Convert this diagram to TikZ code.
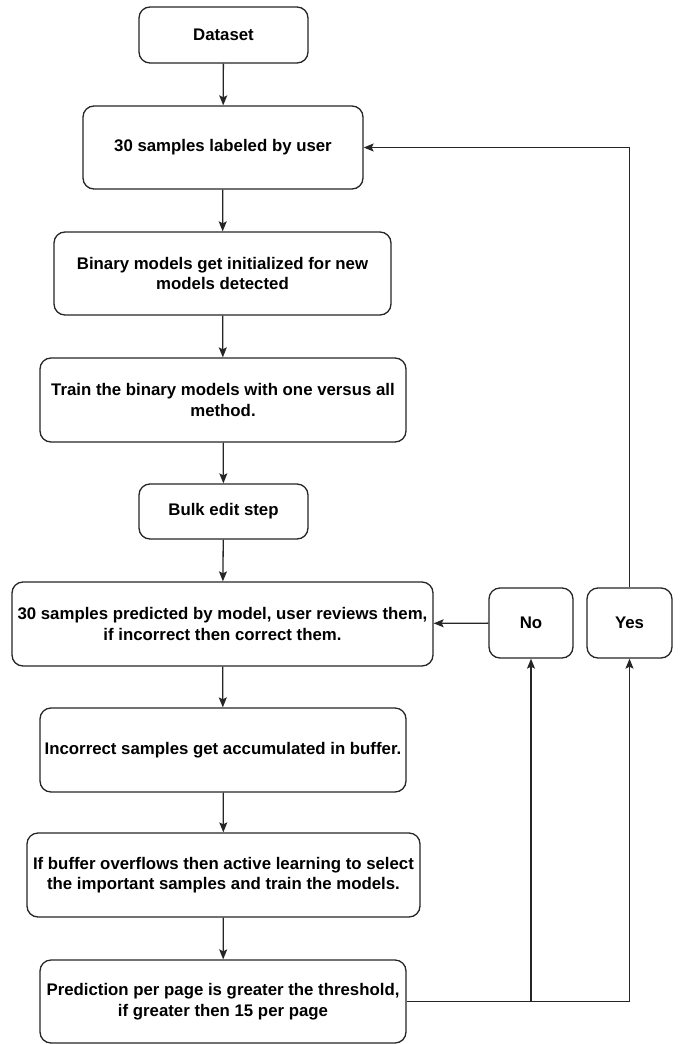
\documentclass[tikz,border=0pt]{standalone}
\usepackage{fontspec}
\setmainfont{Liberation Sans}
\usetikzlibrary{arrows.meta}
\begin{document}
\begin{tikzpicture}[x=1pt,y=-1pt,
  box/.style={draw=black!85, line width=1.3pt, rounded corners=11pt, align=center,
    font=\fontsize{16.8}{20.5}\selectfont\bfseries, inner sep=0pt, fill=white},
  arr/.style={draw=black!85, line width=1.3pt, -{Stealth[length=10pt,width=8pt,inset=2pt]}},
  ln/.style={draw=black!85, line width=1.3pt}]
\useasboundingbox[fill=white] (0,0) rectangle (681,1044);
\node[box, minimum width=169pt, minimum height=56pt] (ds) at (223.5,35) {Dataset};
\node[box, minimum width=280pt, minimum height=83pt] (lab) at (223,147.5) {30 samples labeled by user};
\node[box, minimum width=337pt, minimum height=83pt] (bin) at (222.5,273.5) {Binary models get initialized for new\\models detected};
\node[box, minimum width=366pt, minimum height=84pt] (train) at (223,400) {Train the binary models with one versus all\\method.};
\node[box, minimum width=169pt, minimum height=55pt] (bulk) at (223.5,511.5) {Bulk edit step};
\node[box, minimum width=421pt, minimum height=84pt] (pred) at (222.5,624) {30 samples predicted by model, user reviews them,\\if incorrect then correct them.};
\node[box, minimum width=366pt, minimum height=84pt] (inc) at (223,750) {Incorrect samples get accumulated in buffer.};
\node[box, minimum width=393pt, minimum height=84pt] (buf) at (223.5,875) {If buffer overflows then active learning to select\\the important samples and train the models.};
\node[box, minimum width=366pt, minimum height=83pt] (pp) at (223,1001.5) {Prediction per page is greater the threshold,\\if greater then 15 per page};
\node[box, minimum width=84pt, minimum height=70pt] (no) at (531,623) {No};
\node[box, minimum width=85pt, minimum height=70pt] (yes) at (629.5,623) {Yes};
\coordinate (j) at (no.south|-pp.east);
\draw[arr] (ds) -- (lab);
\draw[arr] (lab) -- (bin);
\draw[arr] (bin) -- (train);
\draw[arr] (train) -- (bulk);
\draw[arr] (bulk) -- (pred);
\draw[arr] (pred) -- (inc);
\draw[arr] (inc) -- (buf);
\draw[arr] (buf) -- (pp);
\draw[arr] (no) -- (pred);
\draw[arr] (pp.east) -| (yes.south);
\draw[arr] (j) -- (no.south);
\draw[arr] (yes.north) |- (lab.east);
\end{tikzpicture}
\end{document}
